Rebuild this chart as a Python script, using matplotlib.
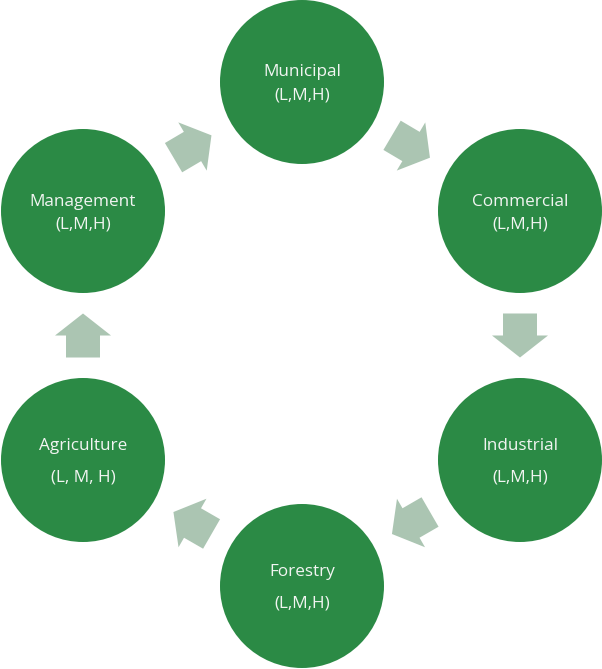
import numpy as np
from matplotlib import pyplot as plt
from matplotlib.patches import Circle, Polygon

# nodes of the cycle, in order
names = ["Municipal", "Commercial", "Industrial", "Forestry", "Agriculture", "Management"]
levels = ["(L,M,H)", "(L,M,H)", "(L,M,H)", "(L,M,H)", "(L, M, H)", "(L,M,H)"]

# layout (pixels, y down)
cx = [302, 520, 520, 302, 83, 83]
cy = [82, 211, 460, 586, 460, 211]
line_gap = [23, 23, 31, 31, 31, 23]
R = 82

green = "#2B8A45"
arrow_col = "#ABC5B2"

fig = plt.figure(figsize=(6.02, 6.69), dpi=100)
ax = fig.add_axes([0, 0, 1, 1])
ax.set_xlim(0, 602)
ax.set_ylim(669, 0)
ax.set_aspect('equal')
ax.axis('off')

# block arrow shape, pointing along +x, centred on 0
L, shaft_w, head_w, head_l = 44, 34, 56, 22
shape = np.array([
    [-L / 2, -shaft_w / 2],
    [L / 2 - head_l, -shaft_w / 2],
    [L / 2 - head_l, -head_w / 2],
    [L / 2, 0],
    [L / 2 - head_l, head_w / 2],
    [L / 2 - head_l, shaft_w / 2],
    [-L / 2, shaft_w / 2],
])

n = len(names)
for i in range(n):
    j = (i + 1) % n
    dx, dy = cx[j] - cx[i], cy[j] - cy[i]
    a = np.arctan2(dy, dx)
    rot = np.array([[np.cos(a), -np.sin(a)], [np.sin(a), np.cos(a)]])
    pts = shape @ rot.T + [(cx[i] + cx[j]) / 2, (cy[i] + cy[j]) / 2]
    ax.add_patch(Polygon(pts, closed=True, fc=arrow_col, ec='none'))

for i in range(n):
    ax.add_patch(Circle((cx[i], cy[i]), R, fc=green, ec='none'))
    g = line_gap[i]
    ax.text(cx[i], cy[i] - g / 2 + 2, names[i], ha='center', va='center',
            color='#F2F5F2', fontsize=12.3, family='Open Sans')
    ax.text(cx[i], cy[i] + g / 2 + 2, levels[i], ha='center', va='center',
            color='#F2F5F2', fontsize=12.3, family='Open Sans')

fig.savefig('out.png', dpi=100)
